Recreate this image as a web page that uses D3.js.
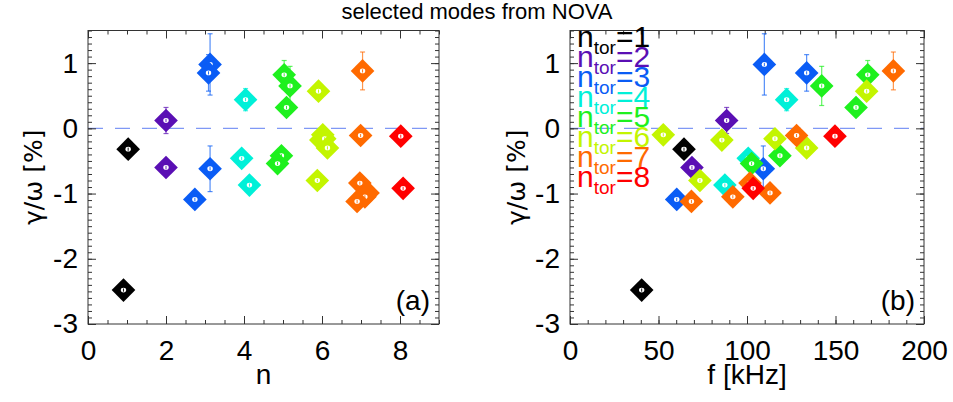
<!DOCTYPE html>
<html>
<head>
<meta charset="utf-8">
<script src="https://cdn.jsdelivr.net/npm/d3@7"></script>
<style>
  html, body { margin: 0; padding: 0; background: #fff; }
  svg { display: block; font-family: "Liberation Sans", Arial, Helvetica, sans-serif; }
</style>
</head>
<body>
<svg id="chart" width="953" height="402"></svg>
<script>
// ---- data ----
const ntor  = [1,1, 2,2, 3,3,3,3, 4,4,4, 5,5,5,5,5, 6,6,6,6,6,6, 7,7,7,7,7,7, 8,8];
const nPos  = [1.03,0.91, 2.0,2.0, 3.13,3.09,3.13,2.74, 4.04,3.94,4.14, 5.03,5.18,5.09,4.96,4.86,
               5.91,6.02,5.97,6.07,6.14,5.88, 7.04,6.99,6.97,7.18,7.10,6.90, 8.02,8.08];
const fKHz  = [64.4,40.5, 88.5,68.9, 109.8,133.7,109.2,60.3, 122.4,100.7,87.5, 168.2,142.2,161.6,118.6,102.6,
               167.6,52.7,85.8,115.8,133.7,73.4, 182.7,128.0,101.7,113.0,92.0,68.6, 149.7,103.5];
const gamma = [-0.32,-2.48, 0.12,-0.60, 0.98,0.85,-0.62,-1.09, 0.44,-0.46,-0.87, 0.82,0.65,0.32,-0.42,-0.54,
               0.57,-0.10,-0.18,-0.16,-0.30,-0.80, 0.88,-0.11,-0.84,-0.99,-1.05,-1.12, -0.12,-0.92];
const errG  = [0,0, 0.20,0, 0.47,0.28,0.35,0, 0.17,0,0, 0.22,0.30,0,0,0, 0,0,0,0,0,0, 0.29,0,0,0,0,0, 0,0];

const torColors = ["#000000","#5a0fb4","#0a5cf5","#00f0d8","#1ef01e","#c3f500","#ff6a00","#ff0000"];
const legendLabels = [1,2,3,4,5,6,7,8];

const xTicksA = [0,2,4,6,8];
const xTicksB = [0,50,100,150,200];
const yTicks  = [1,0,-1,-2,-3];

const titleText = "selected modes from NOVA";
const yTitle = "γ/ω [%]";

// ---- layout ----
const svg = d3.select("#chart");
const yDomain = [-3, 1.5];
const plotTop = 30.5, plotBottom = 324;
const FS = 28;

const points = ntor.map((t,i) => ({t, n: nPos[i], f: fKHz[i], g: gamma[i], e: errG[i]}));

svg.append("text").attr("x", 477).attr("y", 19).attr("text-anchor","middle")
   .attr("font-size", 22).attr("fill","#000").text(titleText);

function panel(opts) {
  const x = d3.scaleLinear().domain(opts.xDomain).range([opts.left, opts.right]);
  const y = d3.scaleLinear().domain(yDomain).range([plotBottom, plotTop]);
  const g = svg.append("g");

  // dashed zero line
  g.append("line").attr("x1", opts.left).attr("x2", opts.right)
    .attr("y1", y(0)).attr("y2", y(0))
    .attr("stroke", "#7f98f5").attr("stroke-width", 1.3).attr("stroke-dasharray", "15,12");

  // axes: major + minor, inward ticks, mirrored
  const mk = (axis, scale, vals, size, fmt) => {
    const a = axis(scale).tickValues(vals).tickSize(size).tickSizeOuter(0);
    if (fmt) a.tickFormat(fmt); else a.tickFormat("");
    return a;
  };
  const xMinor = d3.range(opts.xDomain[0], opts.xDomain[1] + 1e-9, opts.xMinorStep);
  const yMinor = d3.range(-3, 1.5 + 1e-9, 0.1).map(v => +v.toFixed(2));
  const style = sel => {
    sel.select(".domain").remove();
    sel.selectAll("line").attr("stroke", "#333");
    sel.attr("font-family", null).attr("font-size", null);
  };
  g.append("g").attr("transform", `translate(0,${plotBottom})`).call(mk(d3.axisBottom, x, xMinor, -4)).call(style);
  g.append("g").attr("transform", `translate(0,${plotTop})`).call(mk(d3.axisTop, x, xMinor, -4)).call(style);
  g.append("g").attr("transform", `translate(0,${plotTop})`).call(mk(d3.axisTop, x, opts.xTicks, -8)).call(style);
  const xb = g.append("g").attr("transform", `translate(0,${plotBottom})`)
    .call(mk(d3.axisBottom, x, opts.xTicks, -8, d => String(d)).tickPadding(16)).call(style);
  xb.selectAll("text").attr("font-size", FS).attr("fill", "#000");

  g.append("g").attr("transform", `translate(${opts.left},0)`).call(mk(d3.axisLeft, y, yMinor, -4)).call(style);
  g.append("g").attr("transform", `translate(${opts.right},0)`).call(mk(d3.axisRight, y, yMinor, -4)).call(style);
  g.append("g").attr("transform", `translate(${opts.right},0)`).call(mk(d3.axisRight, y, yTicks, -8)).call(style);
  const yl = g.append("g").attr("transform", `translate(${opts.left},0)`)
    .call(mk(d3.axisLeft, y, yTicks, -8, d => String(d)).tickPadding(10)).call(style);
  yl.selectAll("text").attr("font-size", FS).attr("fill", "#000");

  // frame
  g.append("rect").attr("x", opts.left).attr("y", plotTop)
    .attr("width", opts.right - opts.left).attr("height", plotBottom - plotTop)
    .attr("fill", "none").attr("stroke", "#333").attr("stroke-width", 1);

  // axis titles
  g.append("text").attr("x", (opts.left + opts.right) / 2).attr("y", 384)
    .attr("text-anchor", "middle").attr("font-size", FS).text(opts.xTitle);
  g.append("text").attr("transform", `translate(${opts.yTitleX},${(plotTop+plotBottom)/2}) rotate(-90)`)
    .attr("text-anchor", "middle")
    .attr("font-family", "'DejaVu Sans', 'Liberation Sans', sans-serif").attr("font-size", 25).text(yTitle);

  // error bars
  const eb = g.append("g");
  points.filter(p => p.e > 0).forEach(p => {
    const c = torColors[p.t - 1];
    const px = x(opts.xv(p));
    const e = eb.append("g").attr("stroke", c).attr("stroke-opacity", 0.7).attr("stroke-width", 1.2);
    e.append("line").attr("x1", px).attr("x2", px).attr("y1", y(p.g + p.e)).attr("y2", y(p.g - p.e));
    e.append("line").attr("x1", px - 2.5).attr("x2", px + 2.5).attr("y1", y(p.g + p.e)).attr("y2", y(p.g + p.e));
    e.append("line").attr("x1", px - 2.5).attr("x2", px + 2.5).attr("y1", y(p.g - p.e)).attr("y2", y(p.g - p.e));
  });

  // markers
  const sym = d3.symbol().type(d3.symbolSquare).size(280);
  const mg = g.append("g");
  points.forEach(p => {
    const c = torColors[p.t - 1];
    const px = x(opts.xv(p)), py = y(p.g);
    const m = mg.append("g").attr("transform", `translate(${px},${py})`);
    m.append("path").attr("d", sym()).attr("transform", "rotate(45)").attr("fill", c);
    m.append("ellipse").attr("rx", 2.7).attr("ry", 2.4).attr("fill", "#fff");
    m.append("line").attr("x1", 0).attr("x2", 0).attr("y1", -1.6).attr("y2", 1.6)
      .attr("stroke", c).attr("stroke-width", 0.9);
  });

  // panel label
  g.append("text").attr("x", opts.right - 9).attr("y", 310).attr("text-anchor", "end")
    .attr("font-size", FS).text(opts.label);
  return {x, y, g};
}

panel({left: 88, right: 439, xDomain: [0, 9], xMinorStep: 0.5, xTicks: xTicksA,
       xv: p => p.n, xTitle: "n", yTitleX: 42, label: "(a)"});
const pb = panel({left: 570, right: 924, xDomain: [0, 200], xMinorStep: 10, xTicks: xTicksB,
       xv: p => p.f, xTitle: "f [kHz]", yTitleX: 525, label: "(b)"});

// legend in panel (b)
const leg = pb.g.append("g");
legendLabels.forEach((k, i) => {
  const t = leg.append("text").attr("x", 577).attr("y", 47 + i * 20)
    .attr("fill", torColors[i]).attr("font-size", 30);
  t.append("tspan").text("n");
  t.append("tspan").attr("font-size", 19).attr("dy", 7).text("tor");
  t.append("tspan").attr("dy", -7).text("=" + k);
});
</script>
</body>
</html>
